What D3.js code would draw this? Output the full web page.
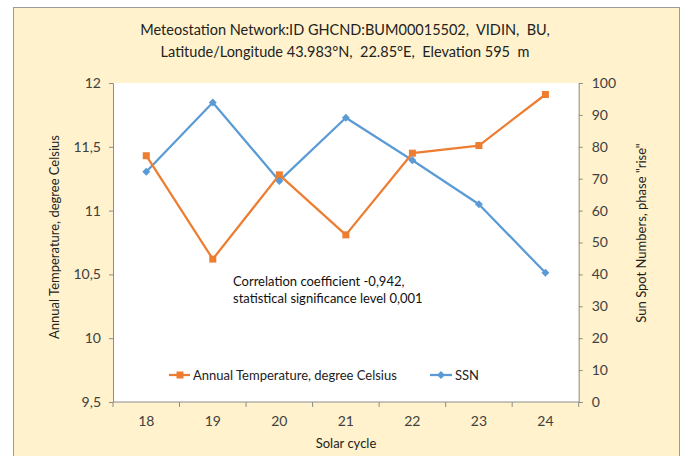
<!DOCTYPE html>
<html><head><meta charset="utf-8">
<script src="https://cdn.jsdelivr.net/npm/d3@7"></script>
<style>body{margin:0;background:#fff;}svg{display:block;font-family:Lato,"Open Sans",sans-serif;}</style>
</head><body><svg id="c" width="685" height="456"></svg>
<script>
const cycles = ["18","19","20","21","22","23","24"];
const temperature = [11.43, 10.62, 11.28, 10.81, 11.45, 11.51, 11.91];
const ssn = [72.2, 93.9, 69.3, 89.1, 75.8, 62.0, 40.5];
const leftTicks = [9.5, 10, 10.5, 11, 11.5, 12];
const rightTicks = [0,10,20,30,40,50,60,70,80,90,100];
const titleLines = ["Meteostation Network:ID GHCND:BUM00015502,  VIDIN,  BU,", "Latitude/Longitude 43.983°N,  22.85°E,  Elevation 595  m"];
const noteLines = ["Correlation coefficient -0,942,", "statistical significance level 0,001"];

const svg = d3.select("#c");
const m = {l:113, r:578.7, t:83, b:402};
const orange = "#ED7D31", blue = "#5B9BD5", axisCol = "#8c8c8c", txt = "#404040";

svg.append("rect").attr("x",13.5).attr("y",7.5).attr("width",666).attr("height",460)
  .attr("fill","#FFF2CC").attr("stroke","#9a9a9a").attr("stroke-width",1);
svg.append("rect").attr("x",m.l).attr("y",m.t).attr("width",m.r-m.l).attr("height",m.b-m.t).attr("fill","#fff");

const x = d3.scaleBand().domain(cycles).range([m.l, m.r]).padding(0);
const yL = d3.scaleLinear().domain([9.5,12]).range([m.b, m.t]);
const yR = d3.scaleLinear().domain([0,100]).range([m.b, m.t]);
const fmt = d => String(d).replace(".", ",");

const gL = svg.append("g").attr("transform",`translate(${m.l},0)`)
  .call(d3.axisLeft(yL).tickValues(leftTicks).tickFormat(fmt).tickSize(4).tickPadding(8));
const gR = svg.append("g").attr("transform",`translate(${m.r},0)`)
  .call(d3.axisRight(yR).tickValues(rightTicks).tickSize(4).tickPadding(9));
const gB = svg.append("g").attr("transform",`translate(0,${m.b})`)
  .call(d3.axisBottom(x).tickSize(0).tickPadding(14));
const bounds = cycles.map(c => x(c)).concat([x(cycles[cycles.length-1]) + x.bandwidth()]);
gB.selectAll(".bt").data(bounds).enter().append("line")
  .attr("x1", d=>d).attr("x2", d=>d).attr("y1",0).attr("y2",5).attr("stroke",axisCol);
[gL,gR,gB].forEach(g => {
  g.selectAll(".domain").attr("stroke",axisCol);
  g.selectAll(".tick line").attr("stroke",axisCol);
  g.selectAll("text").attr("fill",txt).style("font-size","14px").style("font-family","Lato,'Open Sans',sans-serif");
});
gB.selectAll(".domain").attr("d",`M${m.l},0H${m.r}`);

const line = (yS, data) => d3.line().x((d,i)=>x(cycles[i])+x.bandwidth()/2).y(d=>yS(d))(data);
svg.append("path").attr("d", line(yR, ssn)).attr("fill","none").attr("stroke",blue).attr("stroke-width",2.25).attr("stroke-linejoin","round");
svg.append("path").attr("d", line(yL, temperature)).attr("fill","none").attr("stroke",orange).attr("stroke-width",2.25).attr("stroke-linejoin","round");

svg.selectAll(".sq").data(temperature).enter().append("rect")
  .attr("x",(d,i)=>x(cycles[i])+x.bandwidth()/2-3.5).attr("y",d=>yL(d)-3.5)
  .attr("width",7).attr("height",7).attr("fill",orange);
const diamond = d3.symbol().type(d3.symbolDiamond2).size(40);
svg.selectAll(".dm").data(ssn).enter().append("path")
  .attr("d", diamond).attr("transform",(d,i)=>`translate(${x(cycles[i])+x.bandwidth()/2},${yR(d)})`).attr("fill",blue);

svg.append("g").selectAll("text").data(titleLines).enter().append("text")
  .attr("x",345).attr("y",(d,i)=>35+i*22).attr("text-anchor","middle")
  .style("white-space","pre")
  .attr("fill","#222").style("font-size","14.5px").text(d=>d);

svg.append("g").selectAll("text").data(noteLines).enter().append("text")
  .attr("x",233).attr("y",(d,i)=>286+i*17).attr("fill","#111").style("font-size","13px").text(d=>d);

svg.append("text").attr("transform","translate(59,237) rotate(-90)").attr("text-anchor","middle")
  .attr("fill","#222").style("font-size","13px").text("Annual Temperature, degree Celsius");
svg.append("text").attr("transform","translate(646,233) rotate(-90)").attr("text-anchor","middle")
  .attr("fill","#222").style("font-size","13px").text("Sun Spot Numbers, phase \"rise\"");
svg.append("text").attr("x",346).attr("y",448).attr("text-anchor","middle")
  .attr("fill","#222").style("font-size","13px").text("Solar cycle");

const lg = svg.append("g");
lg.append("line").attr("x1",169).attr("x2",190).attr("y1",375).attr("y2",375).attr("stroke",orange).attr("stroke-width",2.25);
lg.append("rect").attr("x",176.5).attr("y",371.5).attr("width",7).attr("height",7).attr("fill",orange);
lg.append("text").attr("x",193).attr("y",380).attr("fill","#222").style("font-size","13px").text("Annual Temperature, degree Celsius");
lg.append("line").attr("x1",430).attr("x2",452).attr("y1",375).attr("y2",375).attr("stroke",blue).attr("stroke-width",2.25);
lg.append("path").attr("d",diamond).attr("transform","translate(441,375)").attr("fill",blue);
lg.append("text").attr("x",455).attr("y",380).attr("fill","#222").style("font-size","13px").text("SSN");
</script></body></html>
